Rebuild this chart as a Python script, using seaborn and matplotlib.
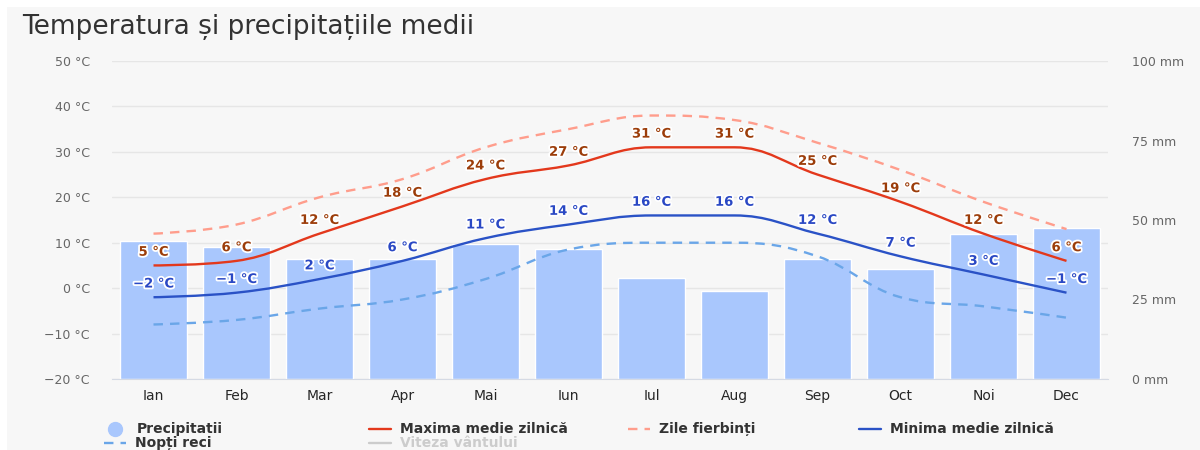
import matplotlib
matplotlib.use('Agg')
import matplotlib.pyplot as plt
import matplotlib.patheffects as pe
from matplotlib.path import Path
from matplotlib.patches import PathPatch, Rectangle
from matplotlib.lines import Line2D
import pandas as pd
import seaborn as sns

# data
months = ['Ian', 'Feb', 'Mar', 'Apr', 'Mai', 'Iun', 'Iul', 'Aug', 'Sep', 'Oct', 'Noi', 'Dec']
precip_mm = [43.5, 41.6, 37.7, 37.7, 42.5, 40.8, 31.7, 27.6, 37.7, 34.6, 45.6, 47.6]
max_temp = [5, 6, 12, 18, 24, 27, 31, 31, 25, 19, 12, 6]
min_temp = [-2, -1, 2, 6, 11, 14, 16, 16, 12, 7, 3, -1]
hot_days = [12, 14, 20, 24, 31, 35, 38, 37, 32, 26, 19, 13]
cold_nights = [-8, -7, -4.5, -2.5, 2, 8.5, 10, 10, 7, -2, -4, -6.5]
temp_ticks = [-20, -10, 0, 10, 20, 30, 40, 50]
mm_ticks = [0, 25, 50, 75, 100]

sns.set_style('white')
plt.rcParams['font.family'] = ['DejaVu Sans']

BG = '#f7f7f7'
W, H = 1200, 450


def fmt_temp(v):
    s = f'{v} °C'
    return s.replace('-', '\u2212')


def spline_path(xs, ys):
    # Highcharts-like spline through the points
    sm = 1.5
    d = sm + 1
    n = len(xs)
    left = [None] * n
    right = [None] * n
    for i in range(1, n - 1):
        px, py = xs[i], ys[i]
        lx, ly = xs[i - 1], ys[i - 1]
        nx, ny = xs[i + 1], ys[i + 1]
        lcx, lcy = (sm * px + lx) / d, (sm * py + ly) / d
        rcx, rcy = (sm * px + nx) / d, (sm * py + ny) / d
        if rcx != lcx:
            corr = ((rcy - lcy) * (rcx - px)) / (rcx - lcx) + py - rcy
            lcy += corr
            rcy += corr
        if lcy > ly and lcy > py:
            lcy = max(ly, py)
            rcy = 2 * py - lcy
        elif lcy < ly and lcy < py:
            lcy = min(ly, py)
            rcy = 2 * py - lcy
        if rcy > ny and rcy > py:
            rcy = max(ny, py)
            lcy = 2 * py - rcy
        elif rcy < ny and rcy < py:
            rcy = min(ny, py)
            lcy = 2 * py - rcy
        left[i] = (lcx, lcy)
        right[i] = (rcx, rcy)
    verts = [(xs[0], ys[0])]
    codes = [Path.MOVETO]
    for i in range(1, n):
        c1 = right[i - 1] or (xs[i - 1], ys[i - 1])
        c2 = left[i] or (xs[i], ys[i])
        verts += [c1, c2, (xs[i], ys[i])]
        codes += [Path.CURVE4] * 3
    return Path(verts, codes)


fig = plt.figure(figsize=(W / 100, H / 100), dpi=100, facecolor=BG)
# white strips on top and left like the screenshot
fig.patches.append(Rectangle((0, 1 - 7 / H), 1, 7 / H, transform=fig.transFigure,
                             facecolor='white', edgecolor='none', zorder=-1))
fig.patches.append(Rectangle((0, 0), 7 / W, 1, transform=fig.transFigure,
                             facecolor='white', edgecolor='none', zorder=-1))

rect = [112 / W, 1 - 379 / H, 996 / W, 318 / H]
ax = fig.add_axes(rect)
ax.set_facecolor(BG)
ax2 = ax.twinx()
ax3 = ax.twinx()

# temperature axis with grid
ax.set_ylim(-20, 50)
ax.set_yticks(temp_ticks)
ax.set_yticklabels([fmt_temp(t) for t in temp_ticks])
ax.yaxis.grid(True, color='#e6e6e6', linewidth=1)
ax.set_axisbelow(True)
ax.tick_params(axis='y', length=0, pad=16, labelsize=9, labelcolor='#666666')
for s in ax.spines.values():
    s.set_visible(False)

# precipitation bars
df = pd.DataFrame({'luna': months, 'mm': precip_mm})
sns.barplot(data=df, x='luna', y='mm', order=months, color='#a9c7fd',
            saturation=1, width=0.8, ax=ax2, zorder=1)
ax2.set_ylim(0, 100)
ax2.set_yticks(mm_ticks)
ax2.set_yticklabels([f'{m} mm' for m in mm_ticks])
ax2.tick_params(axis='y', length=0, pad=17, labelsize=9, labelcolor='#666666')
ax2.set_xlabel('')
ax2.set_ylabel('')
for s in ax2.spines.values():
    s.set_visible(False)
ax2.spines['bottom'].set_visible(True)
ax2.spines['bottom'].set_color('#d5dae4')

# temperature lines
ax3.set_ylim(-20, 50)
ax3.set_yticks([])
for s in ax3.spines.values():
    s.set_visible(False)

xs = list(range(len(months)))
series = [
    (hot_days, '#ff9d8c', (4, 3)),
    (cold_nights, '#6aa6e8', (4, 3)),
    (max_temp, '#e3381c', None),
    (min_temp, '#2a52c6', None),
]
for vals, col, dash in series:
    patch = PathPatch(spline_path(xs, vals), fill=False, edgecolor=col, linewidth=1.7,
                      capstyle='butt', zorder=3)
    if dash:
        patch.set_linestyle((0, dash))
    ax3.add_patch(patch)

outline = [pe.withStroke(linewidth=2.6, foreground='white')]
for vals, col in [(max_temp, '#9c3d0a'), (min_temp, '#2a48c4')]:
    for i, v in enumerate(vals):
        ax3.annotate(fmt_temp(v), (i, v), xytext=(0, 9.5), textcoords='offset points',
                     ha='center', va='center', fontsize=9.5, fontweight='bold',
                     color=col, path_effects=outline, zorder=5)

for a in (ax, ax2, ax3):
    a.set_xlim(-0.5, len(months) - 0.5)
ax.set_xticks([])
ax3.set_xticks([])
ax2.set_xticks(xs)
ax2.set_xticklabels(months)
ax2.tick_params(axis='x', length=0, pad=8, labelsize=9.5, labelcolor='#666666')

# title
fig.text(22 / W, 1 - 27 / H, 'Temperatura și precipitațiile medii', fontsize=19,
         color='#333333', ha='left', va='center')

# legend, drawn by hand to keep the reference spacing
legend_items = [
    (115, 429, 'marker', '#a9c7fd', 'Precipitatii', '#333333'),
    (369, 429, 'solid', '#e3381c', 'Maxima medie zilnică', '#333333'),
    (628, 429, 'dash', '#ff9d8c', 'Zile fierbinți', '#333333'),
    (859, 429, 'solid', '#2a52c6', 'Minima medie zilnică', '#333333'),
    (104, 443, 'dash', '#6aa6e8', 'Nopți reci', '#333333'),
    (369, 443, 'solid', '#cccccc', 'Viteza vântului', '#cccccc'),
]
for x0, y0, kind, col, label, tcol in legend_items:
    fy = 1 - y0 / H
    if kind == 'marker':
        fig.add_artist(Line2D([x0 / W], [fy], marker='o', markersize=10, color=col,
                              linestyle='none', transform=fig.transFigure))
        tx = 137
    else:
        ls = (0, (4, 3)) if kind == 'dash' else '-'
        fig.add_artist(Line2D([x0 / W, (x0 + 22) / W], [fy, fy], color=col, linewidth=1.7,
                              linestyle=ls, transform=fig.transFigure))
        tx = x0 + 31
    fig.text(tx / W, fy, label, fontsize=10, fontweight='bold', color=tcol,
             ha='left', va='center')

fig.savefig('out.png', dpi=100, facecolor=BG)
